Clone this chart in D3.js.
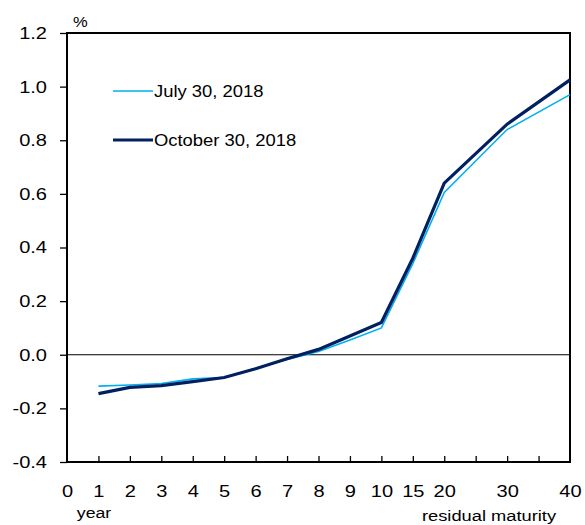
<!DOCTYPE html>
<html><head><meta charset="utf-8">
<script src="https://cdn.jsdelivr.net/npm/d3@7"></script>
<style>body{margin:0;background:#fff}svg{display:block}text{font-family:"Liberation Sans",Arial,sans-serif;fill:#000}</style>
</head><body><svg id="c" width="585" height="525"></svg>
<script>
const categories = ["0","1","2","3","4","5","6","7","8","9","10","15","20","","30","","40"];
const seriesNames = ["July 30, 2018", "October 30, 2018"];
const july = [null,-0.117,-0.113,-0.107,-0.090,-0.085,-0.050,-0.018,0.012,0.055,0.100,0.340,0.605,null,0.840,null,0.970];
const october = [null,-0.145,-0.122,-0.115,-0.100,-0.085,-0.052,-0.015,0.020,0.070,0.120,0.360,0.640,null,0.860,null,1.025];
const yTicks = [-0.4,-0.2,0.0,0.2,0.4,0.6,0.8,1.0,1.2];
const colors = ["#00B0F0", "#002060"];

const SX = 1.18;
const svg = d3.select("#c");
const L=67, R=570, T=33, B=462;
const x = d3.scalePoint().domain(d3.range(categories.length)).range([L,R]);
const y = d3.scaleLinear().domain([-0.4,1.2]).range([B,T]);

// frame
svg.append("rect").attr("x",L).attr("y",T).attr("width",R-L).attr("height",B-T)
  .attr("fill","none").attr("stroke","#000").attr("stroke-width",2);
// zero line
svg.append("line").attr("x1",L).attr("x2",R).attr("y1",y(0)).attr("y2",y(0)).attr("stroke","#000").attr("stroke-width",1.2);

// y axis
const ya = svg.append("g").attr("transform",`translate(${L},0)`)
  .call(d3.axisLeft(y).tickValues(yTicks).tickSize(7).tickPadding(13).tickFormat(d=>d.toFixed(1)));
ya.select(".domain").remove();
ya.selectAll("line").attr("stroke","#000").attr("stroke-width",1.3);
ya.selectAll("text").style("font-size","17px").attr("font-family","Liberation Sans, Arial, sans-serif")
  .attr("x",-20/SX).attr("transform",`scale(${SX},1)`);

// x axis (ticks inward)
const xa = svg.append("g").attr("transform",`translate(0,${B})`)
  .call(d3.axisBottom(x).tickSize(-6).tickPadding(23).tickFormat(i=>categories[i]));
xa.select(".domain").remove();
xa.selectAll("line").attr("stroke","#000").attr("stroke-width",1.3);
xa.selectAll(".tick").filter(i=>i===0||i===categories.length-1).select("line").remove();
xa.selectAll("text").style("font-size","17px").attr("font-family","Liberation Sans, Arial, sans-serif")
  .attr("transform",`scale(${SX},1)`);

svg.append("text").attr("transform",`translate(94,518) scale(${SX},1)`).attr("text-anchor","middle").style("font-size","15px").text("year");
svg.append("text").attr("transform",`translate(489,521) scale(${SX},1)`).attr("text-anchor","middle").style("font-size","15.5px").text("residual maturity");
svg.append("text").attr("transform",`translate(73,27) scale(${SX},1)`).style("font-size","14px").text("%");

const line = d3.line().x(d=>x(d[0])).y(d=>y(d[1]));
const toPts = arr => arr.map((v,i)=>[i,v]).filter(d=>d[1]!==null);
svg.append("path").attr("d",line(toPts(july))).attr("fill","none").attr("stroke",colors[0]).attr("stroke-width",1.6);
svg.append("path").attr("d",line(toPts(october))).attr("fill","none").attr("stroke",colors[1]).attr("stroke-width",3.2);

// legend
const lg = [[91,1.6],[140,3.2]];
seriesNames.forEach((n,i)=>{
  svg.append("line").attr("x1",113).attr("x2",153).attr("y1",lg[i][0]).attr("y2",lg[i][0]).attr("stroke",colors[i]).attr("stroke-width",lg[i][1]);
  svg.append("text").attr("transform",`translate(154,${lg[i][0]+6}) scale(${SX},1)`).style("font-size","15.6px").text(n);
});
</script></body></html>
